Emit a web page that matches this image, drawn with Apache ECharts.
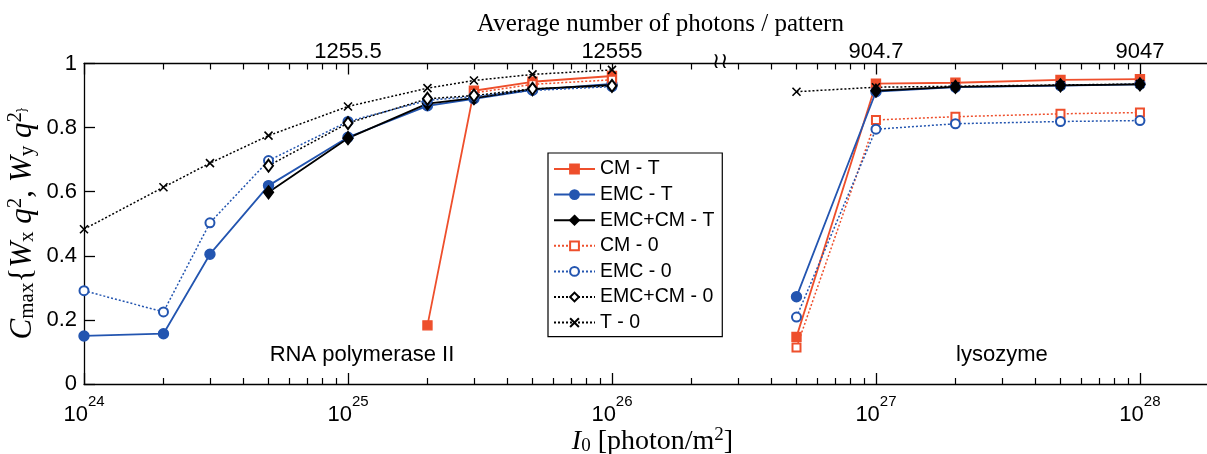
<!DOCTYPE html>
<html><head><meta charset="utf-8">
<script src="https://cdn.jsdelivr.net/npm/echarts@6/dist/echarts.min.js"></script>
<style>html,body{margin:0;padding:0;background:#fff}#c{width:1207px;height:454px}</style>
</head><body><div id="c"></div>
<script>
// ---------- data ----------
const xRNA = [1e24, 2e24, 3e24, 5e24, 1e25, 2e25, 3e25, 5e25, 1e26];
const xLys = [5e26, 1e27, 2e27, 5e27, 1e28];

const seriesNames = ['CM - T', 'EMC - T', 'EMC+CM - T', 'CM - 0', 'EMC - 0', 'EMC+CM - 0', 'T - 0'];

const cmT_rna    = [null, null, null, null, null, 0.183, 0.915, 0.943, 0.961];
const emcT_rna   = [0.150, 0.157, 0.405, 0.619, 0.770, 0.868, 0.890, 0.918, 0.936];
const emccmT_rna = [null, null, null, 0.598, 0.767, 0.875, 0.892, 0.920, 0.933];
const cm0_rna    = [null, null, null, null, null, null, 0.908, 0.935, 0.949];
const emc0_rna   = [0.291, 0.225, 0.503, 0.697, 0.819, 0.885, 0.897, 0.916, 0.928];
const emccm0_rna = [null, null, null, 0.681, 0.814, 0.890, 0.900, 0.921, 0.930];
const t0_rna     = [0.483, 0.614, 0.689, 0.775, 0.866, 0.923, 0.947, 0.966, 0.980];

const cmT_lys    = [0.147, 0.937, 0.940, 0.949, 0.951];
const emcT_lys   = [0.272, 0.912, 0.926, 0.931, 0.935];
const emccmT_lys = [null, 0.915, 0.927, 0.932, 0.935];
const cm0_lys    = [0.114, 0.824, 0.834, 0.843, 0.847];
const emc0_lys   = [0.209, 0.795, 0.812, 0.819, 0.822];
const emccm0_lys = [null, null, null, null, null];
const t0_lys     = [0.912, 0.926, 0.929, 0.933, 0.936];

const bottomTickValues = [1e24, 1e25, 1e26, 1e27, 1e28];
const topTickValues = [1e25, 1e26, 1e27, 1e28];
const topTickLabels = ['1255.5', '12555', '904.7', '9047'];

const annotationTexts = ['RNA polymerase II', 'lysozyme'];
const annotationX = [1.13e25, 3.0e27];
const annotationY = [0.09, 0.09];
const breakX = 2.57e26;

// ---------- styles ----------
const RED = '#EE4F2C', BLUE = '#2355B0', BLACK = '#000000';
const dotted = [2, 2];
const styleOf = {
  'CM - T':     {color: RED,   line: 'solid', width: 1.8, symbol: 'rect', size: 9},
  'EMC - T':    {color: BLUE,  line: 'solid', width: 1.8, symbol: 'circle', size: 10},
  'EMC+CM - T': {color: BLACK, line: 'solid', width: 1.8, symbol: 'diamond', size: [10, 13]},
  'CM - 0':     {color: RED,   line: dotted,  width: 1.5, symbol: 'emptyRect', size: 8},
  'EMC - 0':    {color: BLUE,  line: dotted,  width: 1.5, symbol: 'emptyCircle', size: 9},
  'EMC+CM - 0': {color: BLACK, line: dotted,  width: 1.5, symbol: 'emptyDiamond', size: [9, 12]},
  'T - 0':      {color: BLACK, line: dotted,  width: 1.5, symbol: 'path://M0 0L10 10M10 0L0 10', size: 8}
};
const dataOf = {
  'CM - T': [cmT_rna, cmT_lys],
  'EMC - T': [emcT_rna, emcT_lys],
  'EMC+CM - T': [emccmT_rna, emccmT_lys],
  'CM - 0': [cm0_rna, cm0_lys],
  'EMC - 0': [emc0_rna, emc0_lys],
  'EMC+CM - 0': [emccm0_rna, emccm0_lys],
  'T - 0': [t0_rna, t0_lys]
};

const series = [];
seriesNames.forEach(name => {
  const st = styleOf[name];
  [[xRNA, dataOf[name][0]], [xLys, dataOf[name][1]]].forEach(([xs, vals]) => {
    const pts = xs.map((x, i) => vals[i] == null ? null : [x, vals[i]]).filter(p => p);
    series.push({
      name, type: 'line', data: pts, xAxisIndex: 0, yAxisIndex: 0,
      symbol: st.symbol, symbolSize: st.size, showSymbol: true,
      lineStyle: {color: st.color, width: st.width, type: st.line},
      itemStyle: {color: st.color, borderColor: st.color, borderWidth: st.symbol.startsWith('path') ? 1.6 : 1.4},
      emphasis: {disabled: true}, animation: false, z: 2
    });
  });
});

// ---------- axes ----------
const LOGMIN = 1e24, LOGMAX = Math.pow(10, 28.254);
const minorTickValues = [];
for (let d = 24; d <= 28; d++) for (let k = 2; k <= 9; k++) {
  const v = k * Math.pow(10, d); if (v <= LOGMAX) minorTickValues.push(v);
}
const SANS = '"Liberation Sans", Arial, sans-serif';
const SERIF = '"Liberation Serif", "DejaVu Serif", serif';
const axLine = {show: true, lineStyle: {color: '#000', width: 1.3}};

function baseX(pos) {
  return {type: 'log', logBase: 10, min: LOGMIN, max: LOGMAX, position: pos, gridIndex: 0, nameMoveOverlap: false,
    splitLine: {show: false}, minorTick: {show: false}, minorSplitLine: {show: false}, axisPointer: {show: false}};
}
const xAxes = [
  Object.assign(baseX('bottom'), {
    axisLine: axLine,
    axisTick: {show: true, inside: true, length: 11, customValues: bottomTickValues, lineStyle: {color: '#000', width: 1.3}},
    axisLabel: {customValues: bottomTickValues, margin: 10, color: '#000',
      formatter: v => '{b|10}{s|' + Math.round(Math.log10(v)) + '}',
      rich: {b: {fontFamily: SANS, fontSize: 22, lineHeight: 32, verticalAlign: 'bottom', color: '#000'},
             s: {fontFamily: SANS, fontSize: 15, lineHeight: 15, verticalAlign: 'top', color: '#000'}}},
    name: '{i|I}{sub|0}{n| [photon/m}{sup|2}{n|]}', nameLocation: 'middle', nameGap: 42,
    nameTextStyle: {padding: [0, 0, 0, 14], rich: {
      i: {fontFamily: SERIF, fontSize: 28, fontStyle: 'italic', lineHeight: 30, verticalAlign: 'bottom', color: '#000'},
      n: {fontFamily: SERIF, fontSize: 28, lineHeight: 30, verticalAlign: 'bottom', color: '#000'},
      sub: {fontFamily: SERIF, fontSize: 19, lineHeight: 19, verticalAlign: 'bottom', color: '#000'},
      sup: {fontFamily: SERIF, fontSize: 19, lineHeight: 19, verticalAlign: 'top', color: '#000'}}}
  }),
  Object.assign(baseX('bottom'), {
    axisLine: {show: false},
    axisTick: {show: true, inside: true, length: 6, customValues: minorTickValues, lineStyle: {color: '#000', width: 1.2}},
    axisLabel: {show: false}
  }),
  Object.assign(baseX('top'), {
    axisLine: axLine,
    axisTick: {show: true, inside: true, length: 11, customValues: bottomTickValues, lineStyle: {color: '#000', width: 1.3}},
    axisLabel: {customValues: topTickValues, margin: 1, color: '#000', fontFamily: SANS, fontSize: 22,
      formatter: v => topTickLabels[topTickValues.findIndex(t => Math.abs(Math.log10(t) - Math.log10(v)) < 1e-6)] || ''},
    name: 'Average number of photons / pattern', nameLocation: 'middle', nameGap: 27,
    nameTextStyle: {fontFamily: SERIF, fontSize: 25, color: '#000', padding: [0, 0, 0, 30]}
  }),
  Object.assign(baseX('top'), {
    axisLine: {show: false},
    axisTick: {show: true, inside: true, length: 6, customValues: minorTickValues, lineStyle: {color: '#000', width: 1.2}},
    axisLabel: {show: false}
  })
];

const option = {
  backgroundColor: '#fff',
  animation: false,
  grid: {left: 84, right: 0, top: 63.5, bottom: 70, containLabel: false, outerBoundsMode: 'none'},
  xAxis: xAxes,
  yAxis: {
    type: 'value', min: 0, max: 1, interval: 0.2, position: 'left', nameMoveOverlap: false,
    axisLine: axLine,
    axisTick: {show: true, inside: true, length: 11, lineStyle: {color: '#000', width: 1.3}},
    axisLabel: {fontFamily: SANS, fontSize: 22, color: '#000', margin: 7},
    splitLine: {show: false},
    name: '{C|C}{sub|max}{n|{}{W|W}{sub|x}{W| q}{sup|2}{n|, }{W|W}{sub|y}{W| q}{sup|2}{n|\u007D}',
    nameLocation: 'middle', nameRotate: 90, nameGap: 46,
    nameTextStyle: {rich: {
      C: {fontFamily: SERIF, fontSize: 31, fontStyle: 'italic', lineHeight: 33, verticalAlign: 'bottom', color: '#000'},
      W: {fontFamily: SERIF, fontSize: 31, fontStyle: 'italic', lineHeight: 33, verticalAlign: 'bottom', color: '#000'},
      n: {fontFamily: SERIF, fontSize: 31, lineHeight: 33, verticalAlign: 'bottom', color: '#000'},
      sub: {fontFamily: SERIF, fontSize: 21, lineHeight: 21, verticalAlign: 'bottom', color: '#000'},
      sup: {fontFamily: SERIF, fontSize: 21, lineHeight: 21, verticalAlign: 'top', color: '#000'}}}
  },
  legend: {
    data: seriesNames, orient: 'vertical', left: 548, top: 153,
    padding: [6, 8, 4, 5], itemGap: 5.6, itemWidth: 41, itemHeight: 11,
    backgroundColor: '#fff', borderColor: '#000', borderWidth: 1.2, borderRadius: 0,
    selectedMode: false,
    textStyle: {fontFamily: SANS, fontSize: 19.5, lineHeight: 20, color: '#000', padding: [0, 0, 0, 0]}
  },
  series
};

const chart = echarts.init(document.getElementById('c'), null, {renderer: 'canvas'});
chart.setOption(option);

const g = [];
annotationTexts.forEach((t, i) => {
  const p = chart.convertToPixel({xAxisIndex: 0, yAxisIndex: 0}, [annotationX[i], annotationY[i]]);
  g.push({type: 'text', x: p[0], y: p[1], z: 10,
    style: {text: t, fontFamily: SANS, fontSize: 22, fill: '#000', align: 'center', verticalAlign: 'middle'}});
});
const bp = chart.convertToPixel({xAxisIndex: 0, yAxisIndex: 0}, [breakX, 1]);
g.push({type: 'text', x: bp[0], y: bp[1] - 1, z: 10,
  style: {text: '\u2240\u2240', fontFamily: '"DejaVu Sans", sans-serif', fontSize: 22, fill: '#000', align: 'center', verticalAlign: 'middle'}});
chart.setOption({graphic: g});
</script>
</body></html>
